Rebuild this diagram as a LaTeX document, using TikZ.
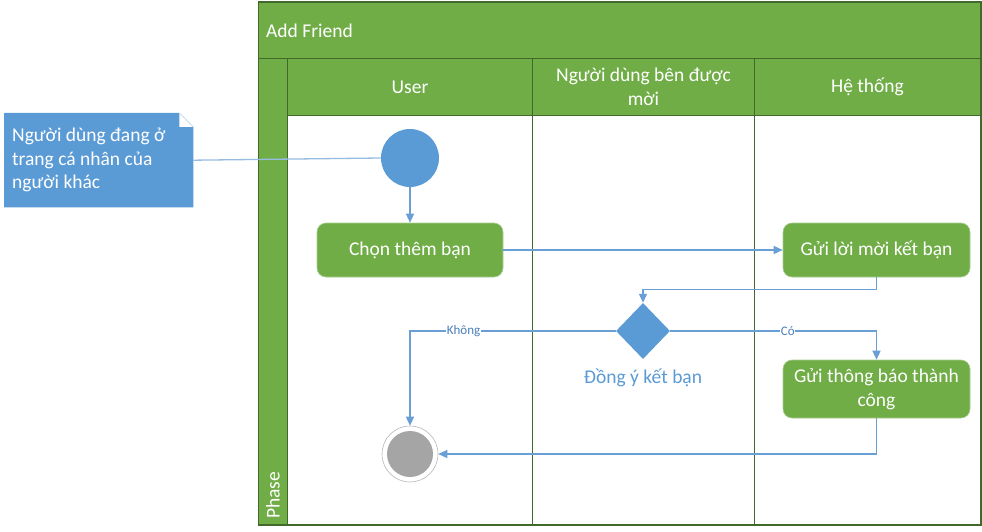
\documentclass[tikz,border=0pt]{standalone}
\usepackage{fontspec}
\setmainfont{Carlito}
\usetikzlibrary{shapes.geometric,arrows.meta}
\definecolor{vgreen}{HTML}{70AD47}
\definecolor{vdark}{HTML}{41692A}
\definecolor{vblue}{HTML}{5B9BD5}
\definecolor{vline}{HTML}{6A9FD6}
\definecolor{vgray}{HTML}{A5A5A5}
\definecolor{vlbl}{HTML}{4A7EBB}
\begin{document}
\begin{tikzpicture}[x=1pt,y=-1pt,
  every node/.style={font=\fontsize{19.5}{23.5}\selectfont},
  band/.style={draw=vdark, line width=1pt, fill=vgreen, inner sep=0pt, anchor=north west},
  hdrtext/.style={text=white, align=center},
  actbox/.style={rounded corners=9pt, fill=vgreen, draw=vgreen!60!white, line width=0.6pt, text=white, align=center, inner sep=0pt, minimum width=187pt, minimum height=54pt},
  conn/.style={draw=vline, line width=1.3pt, -{Triangle[length=9pt,width=8pt]}},
  plain/.style={draw=vline, line width=1.3pt},
  lbl/.style={font=\fontsize{13}{15}\selectfont, text=vlbl, fill=white, inner sep=0.5pt}
]
\useasboundingbox (0,0) rectangle (982,532);
% pool
\node[band, fill=white, minimum width=722pt, minimum height=522pt] (pool) at (258,2) {};
\node[band, minimum width=722pt, minimum height=56pt] (title) at (258,2) {};
\node[anchor=west, text=white, inner sep=0pt] (titletext) at ([xshift=8pt]title.west) {Add Friend};
\node[band, minimum width=29pt, minimum height=466pt] (phase) at (258,58) {};
\node[text=white, rotate=90, anchor=west, inner sep=0pt] (phasetext) at ([yshift=6pt]phase.south) {Phase};
% lane headers
\node[band, minimum width=245pt, minimum height=57pt] (h1) at (287,58) {};
\node[band, minimum width=222pt, minimum height=57pt] (h2) at (532,58) {};
\node[band, minimum width=226pt, minimum height=57pt] (h3) at (754,58) {};
\node[hdrtext] at (h1.center) {User};
\node[hdrtext] at (h2.center) {Người dùng bên được\\mời};
\node[hdrtext] at (h3.center) {Hệ thống};
\coordinate (d1b) at (532,524);
\coordinate (d2b) at (754,524);
\draw[vdark, line width=1pt] (h2.south west) -- (d1b);
\draw[vdark, line width=1pt] (h3.south west) -- (d2b);
\draw[vdark, line width=1pt] (pool.north west) rectangle (pool.south east);
% note
\node[anchor=north west, minimum width=189pt, minimum height=94pt, inner sep=0pt] (note) at (4,113) {};
\fill[vblue] (note.north west) -- ([xshift=-14pt]note.north east) -- ([yshift=-14pt]note.north east) -- (note.south east) -- (note.south west) -- cycle;
\fill[white] ([xshift=-14pt]note.north east) -- ([xshift=-14pt,yshift=-14pt]note.north east) -- ([yshift=-14pt]note.north east) -- cycle;
\draw[vblue!35!white, line width=0.6pt] ([xshift=-14pt]note.north east) -- ([yshift=-14pt]note.north east);
\node[anchor=west, text=white, align=left, inner sep=0pt] (notetext) at ([xshift=8pt,yshift=0pt]note.west) {Người dùng đang ở\\trang cá nhân của\\người khác};
% activity nodes
\node[circle, fill=vblue, minimum size=58pt, inner sep=0pt] (start) at (410,158) {};
\node[actbox, minimum width=186pt] (b1) at (410,250) {Chọn thêm bạn};
\node[actbox] (b2) at (876.5,250) {Gửi lời mời kết bạn};
\node[diamond, fill=vblue, minimum width=54pt, minimum height=56pt, inner sep=0pt] (dia) at (643,331) {};
\node[text=vblue] (dialbl) at (643,378) {Đồng ý kết bạn};
\node[actbox, minimum height=58pt] (b3) at (876.5,389) {Gửi thông báo thành\\công};
\node[circle, draw=vgray!80!white, line width=0.6pt, fill=white, minimum size=56pt, inner sep=0pt] (end) at (410,454) {};
\node[circle, fill=vgray, minimum size=46pt, inner sep=0pt] (endin) at (end.center) {};
% connectors
\draw[plain, draw=vline!70!white] (note.east) -- (start.west);
\draw[conn] (start) -- (b1);
\draw[conn] (b1) -- (b2);
\draw[conn] (b2.south) -- ++(0,12) -| (dia.north);
\draw[conn] (dia.west) -| node[pos=0.37, lbl] {Không} (end.north);
\draw[conn] (dia.east) -| node[pos=0.285, lbl] {Có} (b3.north);
\draw[conn] (b3.south) |- (end.east);
\end{tikzpicture}
\end{document}
